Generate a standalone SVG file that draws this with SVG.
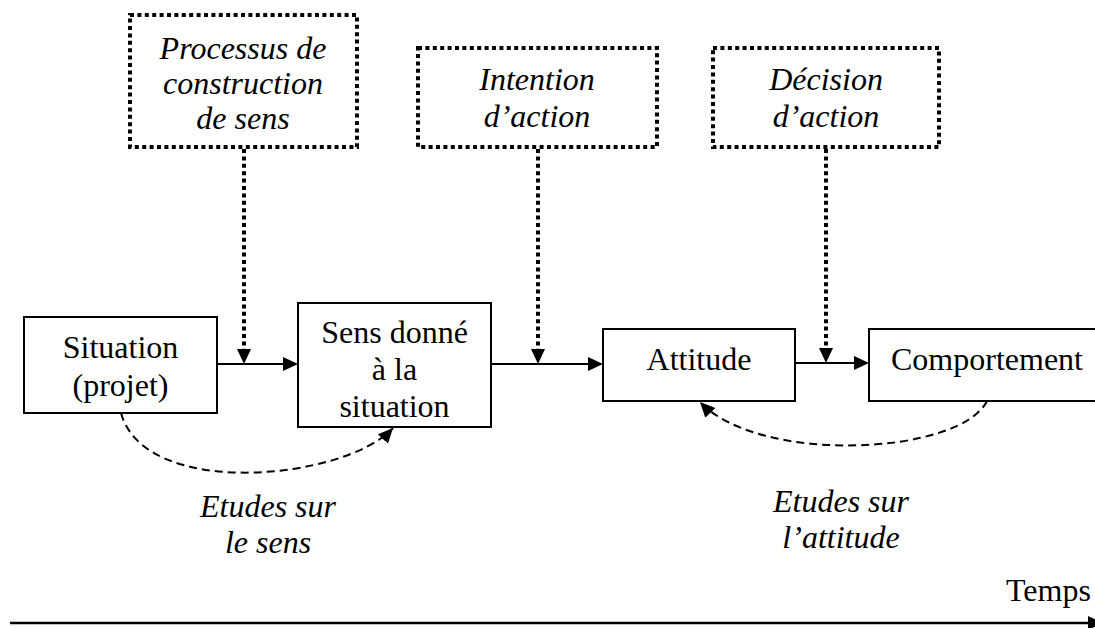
<svg xmlns="http://www.w3.org/2000/svg" width="1095" height="628" viewBox="0 0 1095 628">
<style>
.box{fill:#fff;stroke:#000;stroke-width:2}
.dbox{fill:#fff;stroke:#000;stroke-width:4;stroke-dasharray:4 3.4}
.t{font-family:"Liberation Serif","Times New Roman",serif;font-size:32px;fill:#000;text-anchor:middle}
.it{font-style:italic}
.solid{stroke:#000;stroke-width:2;fill:none}
.dot{stroke:#000;stroke-width:4;stroke-dasharray:4 3.4;fill:none}
.dash{stroke:#000;stroke-width:2;stroke-dasharray:8 5;fill:none}
</style>
<defs>
<marker id="ah" markerWidth="16" markerHeight="16" refX="0" refY="7" orient="auto" markerUnits="userSpaceOnUse"><path d="M0,0 L15,7 L0,14 z" fill="#000"/></marker>
<marker id="ahc" markerWidth="17" markerHeight="16" refX="15" refY="7" orient="auto" markerUnits="userSpaceOnUse"><path d="M0,0 L15,7 L0,14 z" fill="#000"/></marker>
</defs>
<rect width="1095" height="628" fill="#fff"/>

<g id="processus">
<rect class="dbox" x="130" y="15" width="227" height="132"/>
<text class="t it" x="243" y="59">Processus de</text>
<text class="t it" x="243" y="94">construction</text>
<text class="t it" x="243" y="129">de sens</text>
</g>
<g id="intention">
<rect class="dbox" x="418" y="48" width="239" height="99"/>
<text class="t it" x="537" y="90">Intention</text>
<text class="t it" x="537" y="127">d’action</text>
</g>
<g id="decision">
<rect class="dbox" x="713" y="48" width="226" height="99"/>
<text class="t it" x="826" y="90">Décision</text>
<text class="t it" x="826" y="127">d’action</text>
</g>

<g id="situation">
<rect class="box" x="24" y="317" width="193" height="96"/>
<text class="t" x="120.5" y="358">Situation</text>
<text class="t" x="120.5" y="396">(projet)</text>
</g>
<g id="sens">
<rect class="box" x="298" y="303" width="193" height="124"/>
<text class="t" x="394.5" y="343">Sens donné</text>
<text class="t" x="394.5" y="380">à la</text>
<text class="t" x="394.5" y="417">situation</text>
</g>
<g id="attitude">
<rect class="box" x="603" y="329" width="192" height="72"/>
<text class="t" x="699" y="370">Attitude</text>
</g>
<g id="comportement">
<rect class="box" x="869" y="329" width="240" height="72"/>
<text class="t" x="987" y="370">Comportement</text>
</g>

<g id="labels">
<text class="t it" x="268" y="517">Etudes sur</text>
<text class="t it" x="268" y="553">le sens</text>
<text class="t it" x="841" y="512">Etudes sur</text>
<text class="t it" x="841" y="548">l’attitude</text>
<text class="t" x="1006" y="601" style="text-anchor:start">Temps</text>
</g>

<g id="connectors">
<line class="solid" x1="217" y1="364" x2="283" y2="364" marker-end="url(#ah)"/>
<line class="solid" x1="491" y1="364" x2="588" y2="364" marker-end="url(#ah)"/>
<line class="solid" x1="795" y1="363" x2="854" y2="363" marker-end="url(#ah)"/>
<line class="dot" x1="244" y1="149" x2="244" y2="349" marker-end="url(#ah)"/>
<line class="dot" x1="538" y1="149" x2="538" y2="349" marker-end="url(#ah)"/>
<line class="dot" x1="826" y1="149" x2="826" y2="348" marker-end="url(#ah)"/>
<path class="dash" d="M121,413 C145,500 345,480 393,428" marker-end="url(#ahc)"/>
<path class="dash" d="M987,401 C960,455 760,465 700,402" marker-end="url(#ahc)"/>
<line x1="10" y1="623" x2="1088" y2="623" stroke="#000" stroke-width="2.5"/>
<polygon points="1088,616 1103,623 1088,630" fill="#000"/>
</g>
</svg>
